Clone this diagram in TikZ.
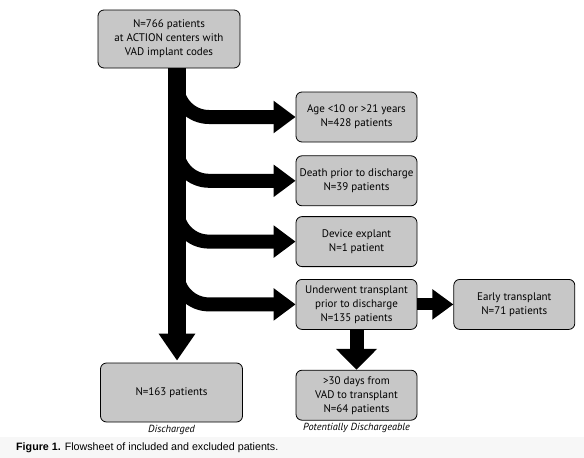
\documentclass[tikz,border=0pt]{standalone}
\usepackage{fontspec}
\setmainfont{PT Sans}
\newfontfamily\capfont{Liberation Sans}
\usepackage{tikz}
\usetikzlibrary{arrows.meta,calc,positioning}

\begin{document}
\begin{tikzpicture}[
    x=1pt, y=-1pt,
    font=\fontsize{11}{14}\selectfont,
    box/.style={draw=black, line width=0.8pt, rounded corners=6pt,
                minimum width=121pt, minimum height=50pt, align=center,
                fill=black!22, inner sep=1pt},
    bigbox/.style={box, minimum width=142pt, minimum height=58pt},
    note/.style={font=\fontsize{10.3}{12}\selectfont\itshape, inner sep=0pt},
    spinearrow/.style={line width=18pt, -{Triangle[length=27pt, width=35pt]}},
    branch/.style={line width=14pt, rounded corners=32pt,
                   -{Triangle[length=22pt, width=31pt]}},
    sidearrow/.style={line width=12pt, -{Triangle[length=21pt, width=29pt]}},
    downarrow/.style={line width=14pt, -{Triangle[length=21pt, width=40pt]}}
]
% page and caption band
\fill[white] (0,0) rectangle (584,458);
\fill[black!3] (0,437) rectangle (584,458);
\useasboundingbox (0,0) rectangle (584,458);

\node[bigbox] (all) at (169,39) {N=766 patients\\at ACTION centers with\\VAD implant codes};
\node[box] (age) at (356.5,117) {Age {<}10 or {>}21 years\\N=428 patients};
\node[box, below=13pt of age] (death) {Death prior to discharge\\N=39 patients};
\node[box, below=10pt of death] (explant) {Device explant\\N=1 patient};
\node[box, below=12pt of explant] (transplant)
    {Underwent transplant\\prior to discharge\\N=135 patients};
\node[box, right=36pt of transplant] (early) {Early transplant\\N=71 patients};
\node[box, below=40pt of transplant] (late)
    {{>}30 days from\\VAD to transplant\\N=64 patients};
\node[bigbox, minimum height=59pt] (discharged) at (171.5,392.5) {N=163 patients};
\node[note, below=3pt of discharged] (dlabel) {Discharged};
\node[note, below=2pt of late] (plabel) {Potentially Dischargeable};
\node[anchor=west, inner sep=0pt] (caption) at (16,448)
    {\capfont\fontsize{10.7}{12}\selectfont\textbf{Figure 1.} Flowsheet of included and excluded patients.};

\coordinate (spine) at (177,0);
\draw[spinearrow] (all.south -| spine) -- ([yshift=2pt]discharged.north -| spine);
\draw[branch] ([yshift=46pt]age.west -| spine) |- (age.west);
\draw[branch] ([yshift=46pt]death.west -| spine) |- (death.west);
\draw[branch] ([yshift=46pt]explant.west -| spine) |- (explant.west);
\draw[branch] ([yshift=46pt]transplant.west -| spine) |- (transplant.west);
\draw[sidearrow] (transplant) -- (early);
\draw[downarrow] (transplant) -- (late);
\end{tikzpicture}
\end{document}
